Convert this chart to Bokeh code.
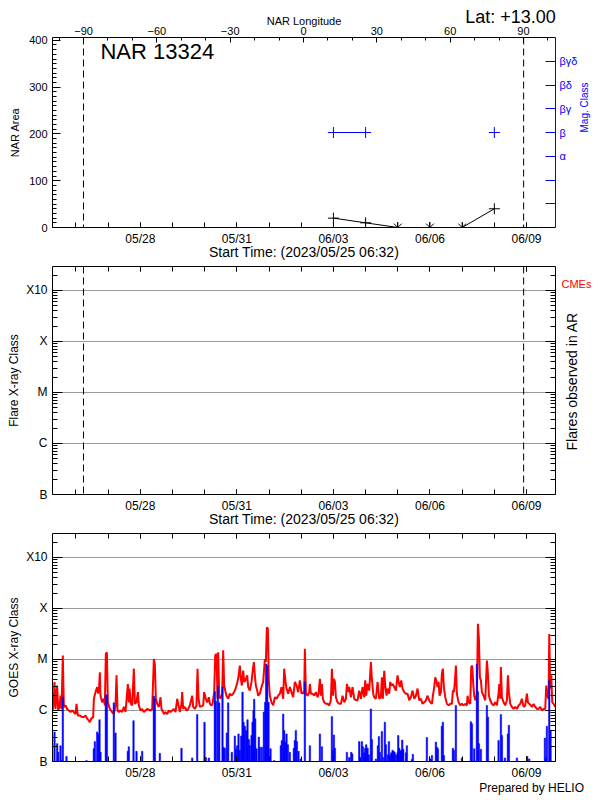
import math
from bokeh.plotting import figure
from bokeh.models import (Range1d, LinearAxis, LogAxis, FixedTicker, Span, Label,
                          LinearScale)
from bokeh.layouts import column
from bokeh.embed import file_html
from bokeh.resources import INLINE

FONT = "Liberation Sans"
nan = float("nan")

# ---------------- time axis (days since 2023-05-25 00:00) ----------------
t_start, t_end = 0.272, 15.90
date_ticks = [3, 6, 9, 12, 15]
date_labels = ["05/28", "05/31", "06/03", "06/06", "06/09"]
day_minor = list(range(1, 16))
limb_days = [1.235, 14.91]
start_label = "Start Time: (2023/05/25 06:32)"

# ---------------- NAR longitude (top axis of panel 1) ----------------
lon_start, lon_end = -102.7, 103.1
lon_ticks = [-90, -60, -30, 0, 30, 60, 90]
lon_minor = list(range(-100, 101, 10))

# ---------------- panel 1: NAR area and magnetic class ----------------
nar_name = "NAR 13324"
nar_lat = "Lat: +13.00"
area_top = 406
area_ticks = [0, 100, 200, 300, 400]
area_minor = list(range(0, 410, 10))
nar_days = [9, 10, 11, 12, 13, 14]
nar_area = [20, 10, 0, 0, 0, 40]
mag_level = [4, 4, nan, nan, nan, 4]
mag_ticks = [1, 2, 3, 4, 5, 6, 7]
mag_labels = ["", "", "α", "β", "βγ", "βδ", "βγδ"]
mag_top = 8

# ---------------- GOES classes ----------------
class_ticks = [1e-7, 1e-6, 1e-5, 1e-4, 1e-3]
class_labels = ["B", "C", "M", "X", "X10"]
flux_floor = 1e-7
flux_top = 10 ** -2.53

# ---------------- GOES X-ray flux (log10 W/m^2) ----------------
goes_day = [
    0.272, 0.303, 0.334, 0.365, 0.417, 0.448, 0.490, 0.521, 0.552, 0.593,
    0.624, 0.676, 0.728, 0.780, 0.831, 0.883, 0.935, 0.987, 1.018, 1.059,
    1.121, 1.194, 1.246, 1.298, 1.349, 1.401, 1.432, 1.474, 1.536, 1.557,
    1.608, 1.660, 1.691, 1.722, 1.743, 1.764, 1.815, 1.867, 1.898, 1.929,
    1.961, 1.992, 2.054, 2.126, 2.178, 2.230, 2.261, 2.292, 2.333, 2.385,
    2.437, 2.489, 2.541, 2.613, 2.644, 2.665, 2.706, 2.748, 2.800, 2.831,
    2.882, 2.924, 2.955, 3.007, 3.058, 3.110, 3.214, 3.317, 3.369, 3.421,
    3.452, 3.483, 3.525, 3.576, 3.628, 3.659, 3.711, 3.732, 3.784, 3.835,
    3.887, 3.939, 3.991, 4.043, 4.094, 4.146, 4.229, 4.280, 4.301, 4.332,
    4.384, 4.436, 4.488, 4.539, 4.612, 4.643, 4.695, 4.746, 4.778, 4.809,
    4.850, 4.954, 4.985, 5.036, 5.078, 5.130, 5.161, 5.213, 5.244, 5.295,
    5.327, 5.368, 5.399, 5.420, 5.451, 5.492, 5.544, 5.575, 5.606, 5.648,
    5.679, 5.730, 5.782, 5.834, 5.886, 5.938, 5.989, 6.041, 6.093, 6.124,
    6.155, 6.197, 6.228, 6.269, 6.321, 6.352, 6.404, 6.456, 6.487, 6.528,
    6.559, 6.590, 6.632, 6.663, 6.715, 6.766, 6.818, 6.870, 6.901, 6.932,
    6.963, 6.994, 7.025, 7.077, 7.129, 7.181, 7.232, 7.284, 7.336, 7.388,
    7.439, 7.470, 7.512, 7.543, 7.595, 7.647, 7.698, 7.750, 7.802, 7.854,
    7.906, 7.957, 8.009, 8.061, 8.093, 8.113, 8.145, 8.196, 8.248, 8.269,
    8.300, 8.352, 8.404, 8.455, 8.507, 8.538, 8.580, 8.611, 8.642, 8.673,
    8.714, 8.766, 8.818, 8.870, 8.921, 8.953, 8.984, 9.015, 9.046, 9.077,
    9.129, 9.180, 9.232, 9.284, 9.336, 9.388, 9.419, 9.460, 9.491, 9.543,
    9.595, 9.647, 9.698, 9.750, 9.802, 9.854, 9.905, 9.957, 9.988, 10.019,
    10.061, 10.113, 10.164, 10.195, 10.237, 10.268, 10.320, 10.372, 10.423, 10.475,
    10.506, 10.537, 10.579, 10.610, 10.651, 10.682, 10.734, 10.765, 10.796, 10.838,
    10.890, 10.941, 10.993, 11.024, 11.066, 11.107, 11.148, 11.200, 11.252, 11.304,
    11.356, 11.407, 11.459, 11.511, 11.563, 11.614, 11.666, 11.718, 11.770, 11.822,
    11.873, 11.925, 11.956, 12.008, 12.060, 12.091, 12.132, 12.163, 12.194, 12.236,
    12.267, 12.298, 12.339, 12.370, 12.401, 12.432, 12.474, 12.526, 12.577, 12.629,
    12.681, 12.712, 12.743, 12.774, 12.805, 12.836, 12.888, 12.940, 12.992, 13.044,
    13.095, 13.147, 13.168, 13.199, 13.251, 13.282, 13.313, 13.344, 13.375, 13.406,
    13.437, 13.458, 13.489, 13.520, 13.551, 13.582, 13.613, 13.665, 13.717, 13.769,
    13.800, 13.831, 13.872, 13.924, 13.976, 14.028, 14.079, 14.131, 14.152, 14.183,
    14.204, 14.235, 14.287, 14.338, 14.390, 14.421, 14.452, 14.494, 14.546, 14.597,
    14.649, 14.701, 14.753, 14.805, 14.856, 14.908, 14.960, 15.012, 15.043, 15.084,
    15.136, 15.167, 15.219, 15.271, 15.323, 15.374, 15.426, 15.478, 15.530, 15.581,
    15.612, 15.644, 15.685, 15.706, 15.737, 15.768, 15.799, 15.841, 15.892,
]
goes_log = [
    -6.00, -5.90, -5.44, -5.97, -5.51, -6.00, -5.93, -5.71, -5.97, -4.92,
    -5.93, -5.90, -5.97, -6.00, -6.03, -6.00, -6.03, -6.07, -5.87, -6.10,
    -6.10, -6.13, -6.13, -6.10, -6.16, -6.20, -6.23, -6.16, -6.13, -5.77,
    -5.64, -5.54, -5.67, -5.51, -5.25, -5.71, -5.84, -5.77, -5.90, -4.89,
    -4.86, -5.84, -5.97, -6.03, -6.07, -5.90, -5.31, -6.00, -6.03, -6.00,
    -6.03, -5.93, -6.03, -5.48, -5.84, -5.57, -5.87, -5.90, -5.18, -5.87,
    -5.84, -5.64, -5.90, -6.00, -5.97, -6.03, -5.97, -6.00, -5.97, -4.99,
    -5.09, -5.77, -5.87, -5.93, -5.74, -5.97, -6.03, -6.07, -6.03, -6.07,
    -6.00, -6.03, -6.00, -5.97, -6.03, -5.77, -6.03, -5.87, -5.64, -5.97,
    -5.93, -6.00, -5.97, -5.90, -5.71, -5.93, -5.97, -5.90, -5.18, -5.77,
    -5.93, -5.90, -5.64, -5.77, -5.84, -5.74, -5.87, -5.90, -5.87, -5.64,
    -4.92, -4.89, -5.77, -4.86, -5.71, -5.77, -5.67, -4.82, -5.51, -5.64,
    -5.71, -5.77, -5.67, -5.71, -5.67, -5.61, -5.51, -5.38, -5.12, -5.38,
    -5.51, -5.22, -5.44, -5.41, -5.31, -5.54, -5.61, -5.44, -5.25, -5.05,
    -5.31, -5.51, -5.61, -5.71, -5.67, -5.54, -5.44, -4.99, -5.05, -4.37,
    -4.40, -5.44, -5.71, -5.84, -5.90, -5.74, -5.77, -5.71, -5.67, -5.54,
    -5.77, -5.18, -5.44, -5.57, -5.67, -5.54, -5.64, -5.74, -5.44, -5.51,
    -5.64, -5.41, -5.67, -5.64, -5.67, -4.79, -5.67, -5.71, -5.64, -5.48,
    -5.67, -5.67, -5.71, -5.64, -5.74, -5.67, -5.38, -5.71, -5.48, -5.77,
    -5.84, -5.87, -5.87, -5.90, -5.80, -5.18, -5.71, -5.38, -5.44, -5.74,
    -5.84, -5.87, -5.87, -5.71, -5.84, -5.77, -5.48, -5.64, -5.54, -5.74,
    -5.54, -5.77, -5.80, -5.80, -5.61, -5.77, -5.54, -5.74, -5.41, -5.71,
    -5.48, -5.61, -5.05, -5.38, -5.67, -5.74, -5.77, -5.44, -5.77, -5.74,
    -5.35, -5.77, -5.22, -5.51, -5.71, -5.57, -5.67, -5.44, -5.51, -5.48,
    -5.54, -5.61, -5.31, -5.44, -5.54, -5.41, -5.57, -5.64, -5.67, -5.67,
    -5.80, -5.74, -5.61, -5.77, -5.71, -5.57, -5.80, -5.77, -5.87, -5.84,
    -5.80, -5.71, -5.77, -5.84, -5.87, -5.71, -5.54, -5.35, -5.41, -5.54,
    -5.44, -5.71, -5.64, -5.28, -5.18, -5.54, -5.74, -5.87, -5.90, -5.87,
    -5.87, -5.61, -5.64, -5.44, -5.12, -5.67, -5.84, -5.90, -5.87, -5.90,
    -5.87, -5.90, -5.71, -5.84, -5.87, -5.15, -5.12, -5.48, -5.71, -5.80,
    -5.74, -5.67, -4.30, -4.59, -5.35, -5.41, -5.64, -5.71, -5.80, -5.02,
    -5.28, -5.71, -5.80, -5.87, -5.90, -5.84, -5.90, -5.67, -5.48, -5.77,
    -5.15, -5.74, -5.84, -5.90, -5.80, -5.31, -5.64, -5.87, -5.93, -5.97,
    -5.93, -5.97, -5.90, -5.87, -5.77, -5.93, -5.90, -5.67, -5.84, -5.87,
    -5.90, -5.93, -5.87, -5.93, -5.97, -5.97, -5.93, -6.00, -5.97, -5.97,
    -5.51, -5.71, -5.77, -4.50, -5.57, -5.31, -5.84, -5.87, -5.93,
]

# ---------------- flare events (log10 peak flux) ----------------
flare_day = [
    0.334, 0.417, 0.448, 0.521, 0.552, 0.593, 0.707, 1.329, 1.557, 1.588,
    1.660, 1.691, 1.733, 1.764, 1.929, 1.961, 2.178, 2.230, 2.613, 2.644,
    2.789, 2.882, 3.058, 3.421, 3.452, 3.607, 4.280, 4.612, 4.767, 4.995,
    5.036, 5.130, 5.316, 5.347, 5.409, 5.451, 5.554, 5.585, 5.627, 5.689,
    5.730, 5.844, 5.938, 5.969, 6.010, 6.052, 6.093, 6.134, 6.176, 6.207,
    6.248, 6.290, 6.331, 6.373, 6.404, 6.456, 6.487, 6.518, 6.538, 6.569,
    6.611, 6.683, 6.715, 6.777, 6.839, 6.880, 6.911, 6.942, 6.984, 7.046,
    7.160, 7.367, 7.398, 7.439, 7.470, 7.502, 7.543, 7.585, 7.647, 7.771,
    7.802, 7.833, 7.864, 7.916, 7.988, 8.113, 8.269, 8.580, 8.642, 8.953,
    8.984, 9.015, 9.046, 9.419, 9.491, 9.553, 9.584, 9.802, 9.833, 9.885,
    9.916, 9.957, 9.988, 10.019, 10.061, 10.102, 10.164, 10.195, 10.320, 10.382,
    10.413, 10.444, 10.506, 10.537, 10.599, 10.630, 10.693, 10.724, 10.765, 10.796,
    10.838, 10.869, 10.900, 10.941, 10.993, 11.014, 11.045, 11.076, 11.107, 11.138,
    11.169, 11.252, 11.283, 11.438, 11.469, 11.904, 12.008, 12.060, 12.184, 12.215,
    12.246, 12.370, 12.401, 12.432, 12.712, 12.743, 12.805, 12.992, 13.271, 13.303,
    13.375, 13.458, 13.489, 13.520, 13.582, 13.769, 13.800, 14.131, 14.204, 14.235,
    14.328, 14.421, 14.452, 14.701, 15.022, 15.084, 15.571, 15.602, 15.633, 15.706,
    15.747,
]
flare_log = [
    -6.42, -6.65, -6.82, -6.69, -6.98, -5.74, -6.90, -6.98, -6.75, -6.61,
    -6.42, -6.46, -6.18, -6.82, -5.71, -5.69, -5.85, -6.44, -6.80, -6.71,
    -6.20, -6.80, -6.80, -5.72, -5.77, -6.84, -6.74, -6.93, -6.08, -6.23,
    -6.92, -6.93, -5.63, -5.82, -5.52, -5.85, -5.54, -6.72, -6.74, -6.44,
    -5.85, -6.82, -6.50, -6.76, -6.69, -6.46, -6.78, -6.50, -5.64, -6.23,
    -6.31, -6.39, -6.18, -6.57, -6.69, -6.49, -6.23, -6.00, -5.78, -6.16,
    -6.75, -6.52, -6.72, -6.72, -6.03, -5.84, -5.09, -5.12, -5.84, -6.75,
    -6.98, -6.69, -6.59, -6.07, -6.39, -6.62, -6.46, -6.67, -6.82, -6.74,
    -6.59, -6.39, -6.61, -6.80, -6.95, -5.44, -6.69, -6.46, -6.71, -6.12,
    -6.78, -6.48, -6.74, -6.82, -6.92, -6.82, -6.85, -6.61, -6.92, -6.61,
    -6.71, -6.83, -6.74, -6.67, -6.74, -6.87, -5.97, -6.57, -6.95, -6.69,
    -6.51, -6.82, -6.41, -6.92, -6.23, -6.67, -6.87, -6.61, -6.88, -6.83,
    -6.78, -6.80, -6.82, -6.87, -6.83, -6.49, -6.74, -6.80, -6.78, -6.58,
    -6.76, -6.83, -6.69, -6.96, -6.86, -6.53, -6.95, -6.88, -6.62, -6.72,
    -6.75, -6.31, -6.23, -6.88, -6.74, -6.78, -5.90, -6.93, -6.22, -6.26,
    -6.75, -5.09, -5.63, -6.65, -6.76, -5.90, -6.13, -6.59, -6.08, -6.49,
    -6.93, -6.46, -6.29, -6.93, -6.90, -6.95, -6.54, -6.92, -6.31, -5.41,
    -6.39,
]

goes_flux = [10 ** v for v in goes_log]
flare_flux = [10 ** v for v in flare_log]
class_minor = [k * 10.0 ** d for d in range(-7, -2) for k in range(2, 10)
               if k * 10.0 ** d < flux_top]

FRAME_W = 503
BORDER_L = 52
BORDER_R = 44
GRID_GRAY = "#9a9a9a"
BLUE = "#0000ff"
RED = "#ff0000"
UPWARD = math.pi / 2   # right-side text reading bottom-to-top


def plain(ax, size="12px", color="black"):
    ax.major_label_text_font = FONT
    ax.major_label_text_font_size = size
    ax.major_label_text_color = color
    ax.axis_label_text_font = FONT
    ax.axis_label_text_font_style = "normal"
    ax.axis_label_text_color = color
    ax.axis_line_color = color
    ax.major_tick_line_color = color
    ax.minor_tick_line_color = color
    ax.major_tick_out = 0
    ax.minor_tick_out = 0


def text_only(ax):
    ax.axis_line_color = None
    ax.major_tick_line_color = None
    ax.minor_tick_line_color = None


def blank_labels(ax, ticks):
    ax.major_label_overrides = {t: "" for t in ticks}
    ax.major_label_text_font_size = "1px"
    ax.major_label_standoff = 0


def date_axis(ax, label, show_labels=True):
    ax.ticker = FixedTicker(ticks=date_ticks, minor_ticks=day_minor)
    plain(ax, "12px")
    ax.major_tick_in = 5
    ax.minor_tick_in = 5
    if show_labels:
        ax.major_label_overrides = dict(zip(date_ticks, date_labels))
        ax.major_label_standoff = 4
    else:
        blank_labels(ax, date_ticks)
    if label:
        ax.axis_label = label
        ax.axis_label_text_font_size = "14px"
        ax.axis_label_standoff = -5


def base(frame_h, top, bottom, log):
    y_range = Range1d(flux_floor, flux_top) if log else Range1d(0, area_top)
    p = figure(frame_width=FRAME_W, frame_height=frame_h,
               x_range=Range1d(t_start, t_end), y_range=y_range,
               y_axis_type="log" if log else "linear",
               min_border_left=BORDER_L, min_border_right=BORDER_R,
               min_border_top=top, min_border_bottom=bottom,
               output_backend="svg", toolbar_location=None)
    p.outline_line_color = None
    p.background_fill_color = "white"
    p.border_fill_color = "white"
    p.xgrid.visible = False
    if log:
        # linear helper range (0 = frame bottom, 1 = frame top)
        p.extra_y_ranges = {"frac": Range1d(0, 1)}
        p.extra_y_scales = {"frac": LinearScale()}
    return p


def class_axes(p, ylabel):
    ya = p.left[0]
    ya.ticker = FixedTicker(ticks=class_ticks, minor_ticks=class_minor)
    ya.major_label_overrides = dict(zip(class_ticks, class_labels))
    plain(ya, "12px")
    ya.major_tick_in = 10
    ya.minor_tick_in = 5
    ya.major_label_standoff = 5
    ya.axis_label = ylabel
    ya.axis_label_text_font_size = "12px"
    ya.axis_label_standoff = 2
    p.ygrid.ticker = FixedTicker(ticks=class_ticks[1:])
    p.ygrid.grid_line_color = GRID_GRAY
    p.ygrid.grid_line_width = 1
    ra = LogAxis(ticker=FixedTicker(ticks=class_ticks, minor_ticks=class_minor))
    plain(ra, "12px")
    blank_labels(ra, class_ticks)
    ra.major_tick_in = 10
    ra.minor_tick_in = 5
    p.add_layout(ra, "right")
    ta = LinearAxis()
    date_axis(ta, None, show_labels=False)
    p.add_layout(ta, "above")


# ======================= Panel 1 =======================
p1 = base(190, 37, 35, log=False)
p1.extra_x_ranges = {"lon": Range1d(lon_start, lon_end)}
p1.extra_y_ranges = {"mag": Range1d(0, mag_top)}
p1.ygrid.visible = False

date_axis(p1.below[0], start_label)

ya = p1.left[0]
ya.ticker = FixedTicker(ticks=area_ticks, minor_ticks=area_minor)
plain(ya, "11px")
ya.major_tick_in = 8
ya.minor_tick_in = 4
ya.major_label_standoff = 5
ya.axis_label = "NAR Area"
ya.axis_label_text_font_size = "11px"
ya.axis_label_standoff = 5

lon_ax = LinearAxis(x_range_name="lon",
                    ticker=FixedTicker(ticks=lon_ticks, minor_ticks=lon_minor))
plain(lon_ax, "11px")
lon_ax.major_tick_in = 5
lon_ax.minor_tick_in = 3
lon_ax.major_label_standoff = 3
lon_ax.axis_label = "NAR Longitude"
lon_ax.axis_label_text_font_size = "11px"
lon_ax.axis_label_standoff = -3
p1.add_layout(lon_ax, "above")

# latitude note, written as the only label of an extra (line-less) top axis
lat_tick = 14.50
lat_ax = LinearAxis(ticker=FixedTicker(ticks=[lat_tick]))
plain(lat_ax, "18px")
text_only(lat_ax)
lat_ax.major_label_overrides = {lat_tick: nar_lat}
lat_ax.major_label_standoff = -15
p1.add_layout(lat_ax, "above")

mag_ax = LinearAxis(y_range_name="mag", ticker=FixedTicker(ticks=mag_ticks))
mag_ax.major_label_overrides = dict(zip(mag_ticks, mag_labels))
plain(mag_ax, "11px", BLUE)
mag_ax.minor_tick_line_color = None
mag_ax.major_tick_in = 10
mag_ax.major_label_standoff = 4
mag_ax.axis_label = "Mag. Class"
mag_ax.axis_label_text_font_size = "10px"
mag_ax.axis_label_standoff = 4
mag_ax.axis_label_orientation = UPWARD
p1.add_layout(mag_ax, "right")

for d in limb_days:
    p1.add_layout(Span(location=d, dimension="height", line_color="black",
                       line_dash="7 4", line_width=1))

p1.line(nar_days, nar_area, line_color="black", line_width=1)
area_pos_d = [d for d, a in zip(nar_days, nar_area) if a > 0]
area_pos_a = [a for a in nar_area if a > 0]
area_zero_d = [d for d, a in zip(nar_days, nar_area) if a == 0]
area_zero_a = [a for a in nar_area if a == 0]
p1.scatter(area_pos_d, area_pos_a, marker="cross", size=11,
           line_color="black", line_width=1)
p1.scatter(area_zero_d, area_zero_a, marker="asterisk", size=11,
           line_color="black", line_width=1)

p1.line(nar_days, mag_level, y_range_name="mag", line_color=BLUE, line_width=1)
p1.scatter(nar_days, mag_level, y_range_name="mag", marker="cross", size=11,
           line_color=BLUE, line_width=1)

p1.add_layout(Label(x=1.76, y=376, text=nar_name, text_font=FONT,
                    text_font_size="22px", text_color="black",
                    text_baseline="middle", text_align="left"))

# ======================= Panel 2 =======================
p2 = base(228, 4, 35, log=True)
date_axis(p2.below[0], start_label)
class_axes(p2, "Flare X-ray Class")

cme_tick = 0.925
cme_ax = LinearAxis(y_range_name="frac", ticker=FixedTicker(ticks=[cme_tick]))
plain(cme_ax, "11px")
text_only(cme_ax)
cme_ax.major_label_overrides = {cme_tick: "CMEs"}
cme_ax.major_label_text_color = RED
cme_ax.major_label_standoff = 6
p2.add_layout(cme_ax, "right")

# right-hand title written as a rotated single tick label (starts at its tick)
flares_tick = 0.193
flares_ax = LinearAxis(y_range_name="frac", ticker=FixedTicker(ticks=[flares_tick]))
plain(flares_ax, "14px")
text_only(flares_ax)
flares_ax.major_label_overrides = {flares_tick: "Flares observed in AR"}
flares_ax.major_label_orientation = UPWARD
flares_ax.major_label_standoff = -22
p2.add_layout(flares_ax, "right")

for d in limb_days:
    p2.add_layout(Span(location=d, dimension="height", line_color="black",
                       line_dash="7 4", line_width=1))

# ======================= Panel 3 =======================
p3 = base(228, 4, 32, log=True)
date_axis(p3.below[0], None)
class_axes(p3, "GOES X-ray Class")
p3.line(goes_day, goes_flux, line_color=RED, line_width=2)
p3.vbar(x=flare_day, top=flare_flux, bottom=flux_floor, width=0.045,
        fill_color=BLUE, line_color=BLUE, line_width=0.5)
helio_tick = 15.16
helio_ax = LinearAxis(ticker=FixedTicker(ticks=[helio_tick]))
plain(helio_ax, "12px")
text_only(helio_ax)
helio_ax.major_label_overrides = {helio_tick: "Prepared by HELIO"}
helio_ax.major_label_standoff = -2
p3.add_layout(helio_ax, "below")

layout = column(p1, p2, p3, spacing=0)
open("out.html", "w").write(file_html(layout, INLINE))
